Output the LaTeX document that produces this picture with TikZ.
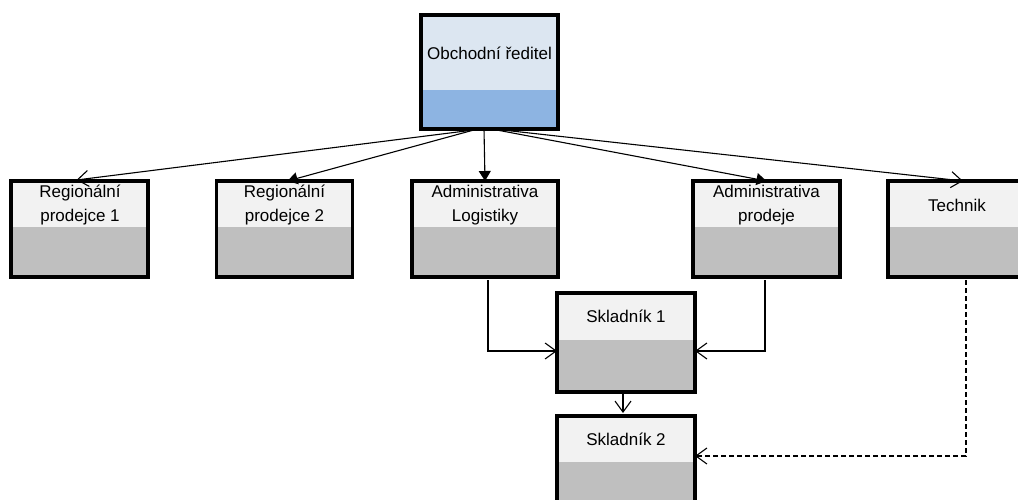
\documentclass[tikz,border=0pt]{standalone}
\usepackage{fontspec}
\setmainfont{Liberation Sans}
\usetikzlibrary{arrows.meta}
\definecolor{topA}{HTML}{DCE6F1}
\definecolor{topB}{HTML}{8DB4E2}
\definecolor{lightA}{HTML}{F2F2F2}
\definecolor{greyB}{HTML}{BFBFBF}
\tikzset{
  box/.style={rectangle, draw=black, line width=3.2pt, outer sep=0pt, inner sep=0pt, fill=lightA},
  lowerfill/.style 2 args={path picture={\fill[#2] (path picture bounding box.south west) rectangle ([yshift=#1]path picture bounding box.south east);}},
  txt/.style={font=\fontsize{17}{24}\selectfont, align=center, inner sep=0pt, text=black},
  conn/.style={line width=1.1pt, black},
  openarr/.style={conn, -{Straight Barb[length=11pt,width=16pt,line width=1.1pt]}},
  fillarr/.style={conn, -{Triangle[length=10pt,width=12pt]}},
}
\begin{document}
\begin{tikzpicture}[x=1pt,y=-1pt]
\useasboundingbox (0,0) rectangle (1018,500);
\clip (0,0) rectangle (1018,500);
% boxes
\node[box, fill=topA, lowerfill={39pt}{topB}, minimum width=137pt, minimum height=114pt] (top) at (489.5,72) {};
\node[box, lowerfill={50pt}{greyB}, minimum width=137pt, minimum height=96pt] (reg1) at (79.5,229) {};
\node[box, lowerfill={50pt}{greyB}, minimum width=136pt, minimum height=96pt] (reg2) at (284.5,229) {};
\node[box, lowerfill={50pt}{greyB}, minimum width=146pt, minimum height=96pt] (adl) at (485,229) {};
\node[box, lowerfill={50pt}{greyB}, minimum width=147pt, minimum height=96pt] (adp) at (766.5,229) {};
\node[box, lowerfill={50pt}{greyB}, minimum width=137pt, minimum height=96pt] (tech) at (956.5,229) {};
\node[box, lowerfill={52pt}{greyB}, minimum width=138pt, minimum height=99pt] (sk1) at (626,342.5) {};
\node[box, lowerfill={53pt}{greyB}, minimum width=138pt, minimum height=99pt] (sk2) at (626,465.5) {};
% texts
\node[txt] (ttop) at (489.5,53) {Obchodní ředitel};
\node[txt] (treg1) at (80,205) {Regionální\\prodejce 1};
\node[txt] (treg2) at (284.5,205) {Regionální\\prodejce 2};
\node[txt] (tadl) at (485,205) {Administrativa\\Logistiky};
\node[txt] (tadp) at (766.5,205) {Administrativa\\prodeje};
\node[txt] (ttech) at (957,205) {Technik};
\node[txt] (tsk1) at (626,316) {Skladník 1};
\node[txt] (tsk2) at (626,439) {Skladník 2};
% connectors
\draw[openarr, shorten <=2pt] ([xshift=-8]top.south) -- ([xshift=-3,yshift=1]reg1.north);
\draw[fillarr, shorten <=2pt] ([xshift=-12]top.south) -- ([xshift=3]reg2.north);
\draw[fillarr] ([xshift=-5.5]top.south) -- (adl.north);
\draw[fillarr, shorten <=2pt] ([xshift=2]top.south) -- (adp.north);
\draw[openarr, shorten <=2pt] ([xshift=4]top.south) -- ([xshift=6.5]tech.north);
\draw[openarr, shorten <=3pt] ([xshift=3]adl.south) |- ([yshift=-8.5]sk1.west);
\draw[openarr, shorten <=3pt] ([xshift=-1.5]adp.south) |- ([yshift=-8.5]sk1.east);
\draw[openarr, shorten <=1pt, shorten >=3pt] ([xshift=-3]sk1.south) -- ([xshift=-3]sk2.north);
\draw[openarr, dash pattern=on 5pt off 3pt, shorten <=3pt] ([xshift=9.5]tech.south) |- ([yshift=9.5]sk2.east);
\end{tikzpicture}
\end{document}
